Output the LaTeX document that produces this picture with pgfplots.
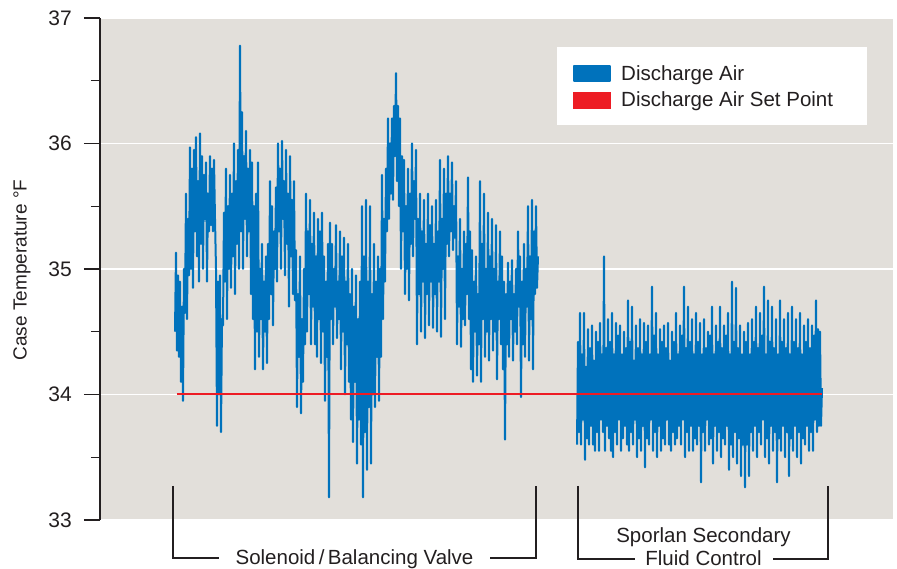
\documentclass[border=0pt]{standalone}
\usepackage{fontspec}
\setmainfont{Liberation Sans}
\usepackage{pgfplots}
\pgfplotsset{compat=1.18}
\definecolor{bggray}{RGB}{226,223,218}
\definecolor{dblue}{RGB}{0,114,188}
\definecolor{sred}{RGB}{237,28,36}
\definecolor{dark}{RGB}{35,31,32}
\begin{document}
\begin{tikzpicture}
\begin{axis}[
  scale only axis, width=793pt, height=502pt,
  xmin=100, xmax=893, ymin=33, ymax=37,
  clip=false,
  axis x line=none, axis y line=left,
  axis line style={-, dark, line width=1.3pt},
  axis background/.style={fill=bggray},
  ytick={33,34,35,36,37}, minor ytick={33.5,34.5,35.5,36.5},
  tick align=outside,
  major tick length=16pt, minor tick length=9pt,
  every tick/.style={dark, line width=1.4pt},
  ymajorgrids, major grid style={white, line width=1.3pt},
  /pgf/number format/assume math mode=true,
  yticklabel style={font=\fontsize{21}{24}\selectfont, text=dark, inner sep=0pt, xshift=-12pt},
  legend style={at={(axis cs:573,36.6255)}, anchor=north west, fill=none, draw=none, inner sep=0pt,
    font=\fontsize{20.5}{24}\selectfont, text=dark, row sep=9.5pt,
    nodes={inner sep=0pt},
    /tikz/every odd column/.append style={column sep=10pt}},
  legend cell align=left,
  legend image code/.code={\fill[#1] (0pt,-7.5pt) rectangle (36pt,7.5pt);},
]
\fill[white] (axis cs:557,36.769) rectangle (axis cs:867,36.147);
\addplot[dblue, line width=2pt, line join=round] table {
175 34.50
176 35.13
177 34.35
178 34.95
179 34.30
180 34.90
181 34.10
182 34.70
183 33.95
184 35.00
185 34.65
186 35.60
187 34.60
188 35.40
189 34.95
190 35.97
191 35.00
192 35.80
193 34.85
194 35.95
195 35.30
196 36.05
197 35.10
198 35.70
199 34.90
200 36.08
201 35.20
202 35.90
203 35.00
204 35.75
205 35.40
206 35.85
207 34.90
208 35.60
209 35.30
210 35.90
211 35.35
212 35.80
213 35.30
214 35.87
215 35.40
216 35.00
217 33.75
218 34.90
219 34.00
220 34.95
221 33.70
222 34.60
223 34.55
224 35.45
225 34.90
226 35.80
227 34.60
228 35.50
229 35.00
230 35.75
231 34.85
232 35.60
233 35.10
234 36.00
235 34.80
236 35.70
237 35.20
238 35.95
239 35.00
240 36.78
241 35.30
242 36.25
243 35.00
244 35.90
245 35.40
246 36.10
247 35.10
248 35.80
249 35.30
250 35.95
251 34.80
252 35.85
253 34.60
254 35.50
255 34.20
256 35.60
257 34.50
258 35.85
259 34.30
260 35.00
261 34.60
262 35.20
263 34.20
264 34.90
265 34.50
266 35.10
267 34.25
268 35.20
269 34.60
270 35.70
271 34.80
272 35.50
273 34.55
274 35.30
275 35.00
276 35.65
277 34.90
278 36.00
279 35.30
280 35.80
281 35.00
282 36.02
283 35.40
284 35.70
285 34.95
286 35.95
287 35.20
288 35.60
289 34.70
290 35.90
291 35.10
292 35.55
293 34.80
294 35.70
295 34.75
296 35.15
297 33.90
298 34.80
299 34.30
300 35.10
301 33.85
302 34.60
303 34.10
304 35.00
305 34.40
306 35.60
307 34.50
308 35.30
309 34.80
310 35.55
311 34.40
312 35.20
313 34.70
314 35.45
315 34.40
316 35.10
317 34.30
318 35.40
319 34.60
320 35.30
321 34.25
322 35.45
323 34.50
324 35.10
325 33.95
326 34.90
327 34.30
328 35.20
329 33.18
330 35.37
331 34.60
332 35.20
333 34.40
334 35.00
335 34.70
336 35.35
337 34.45
338 34.90
339 34.60
340 35.30
341 34.20
342 35.10
343 34.50
344 35.25
345 34.00
346 34.90
347 34.40
348 35.20
349 34.10
350 34.80
351 33.80
352 35.00
353 33.62
354 34.70
355 34.10
356 34.95
357 33.45
358 34.60
359 33.80
360 34.90
361 33.60
362 35.50
363 33.18
364 35.10
365 33.70
366 35.55
367 33.40
368 34.90
369 33.90
370 35.50
371 33.45
372 34.80
373 34.00
374 35.20
375 33.90
376 34.90
377 34.30
378 35.10
379 33.95
380 35.00
381 34.30
382 35.75
383 34.60
384 35.40
385 34.90
386 35.80
387 35.30
388 36.20
389 35.40
390 36.00
391 35.60
392 36.20
393 35.55
394 36.30
395 35.90
396 36.56
397 35.70
398 36.30
399 35.50
400 36.20
401 35.00
402 35.90
403 35.30
404 35.87
405 34.80
406 35.50
407 35.00
408 35.80
409 34.75
410 35.60
411 35.20
412 36.00
413 35.10
414 35.70
415 35.40
416 35.95
417 34.40
418 35.40
419 34.80
420 35.60
421 34.50
422 35.30
423 34.90
424 35.55
425 34.45
426 35.20
427 34.80
428 35.60
429 34.55
430 35.35
431 34.90
432 35.50
433 34.53
434 35.20
435 34.80
436 35.55
437 34.50
438 35.30
439 34.90
440 35.87
441 34.46
442 35.40
443 35.00
444 35.80
445 34.60
446 35.60
447 35.20
448 35.90
449 35.10
450 35.60
451 35.30
452 35.85
453 35.15
454 35.50
455 35.25
456 35.70
457 34.40
458 35.10
459 34.70
460 35.40
461 34.38
462 35.00
463 34.60
464 35.30
465 34.55
466 35.20
467 34.80
468 35.73
469 34.60
470 35.30
471 34.20
472 35.15
473 34.10
474 34.90
475 34.50
476 35.10
477 34.15
478 34.80
479 34.40
480 35.70
481 34.10
482 35.20
483 34.60
484 35.60
485 34.30
486 35.00
487 34.50
488 35.45
489 34.27
490 35.10
491 34.60
492 35.40
493 34.35
494 35.00
495 34.50
496 35.35
497 34.12
498 34.90
499 34.60
500 35.30
501 34.40
502 35.10
503 34.20
504 34.90
505 33.64
506 34.80
507 34.40
508 35.05
509 34.30
510 34.90
511 34.60
512 35.07
513 34.27
514 34.80
515 34.50
516 35.00
517 34.40
518 35.30
519 34.70
520 35.10
521 33.98
522 34.90
523 34.40
524 35.20
525 34.30
526 35.00
527 34.70
528 35.50
529 34.27
530 35.10
531 34.60
532 35.55
533 34.20
534 35.30
535 34.80
536 35.50
537 34.85
538 35.10
};
\addlegendentry{Discharge Air}
\addplot[dblue, line width=2pt, line join=round, forget plot] table {
577 33.60
578 34.42
579 33.70
580 34.65
581 33.60
582 34.32
583 33.80
584 34.65
585 33.48
586 34.22
587 33.65
588 34.52
589 33.60
590 34.37
591 33.75
592 34.55
593 33.60
594 34.27
595 33.55
596 34.50
597 33.70
598 34.42
599 33.55
600 34.57
601 33.80
602 34.32
603 33.70
604 35.10
605 33.55
606 34.37
607 33.75
608 34.60
609 33.65
610 34.42
611 33.55
612 34.65
613 33.50
614 34.32
615 33.70
616 34.57
617 33.60
618 34.47
619 33.80
620 34.55
621 33.55
622 34.32
623 33.65
624 34.50
625 33.75
626 34.37
627 33.60
628 34.75
629 33.55
630 34.42
631 33.70
632 34.70
633 33.60
634 34.27
635 33.80
636 34.55
637 33.50
638 34.37
639 33.65
640 34.60
641 33.55
642 34.32
643 33.75
644 34.57
645 33.42
646 34.42
647 33.65
648 34.55
649 33.60
650 34.32
651 33.80
652 34.86
653 33.55
654 34.47
655 33.70
656 34.65
657 33.50
658 34.32
659 33.75
660 34.52
661 33.55
662 34.42
663 33.65
664 34.55
665 33.60
666 34.37
667 33.80
668 34.57
669 33.60
670 34.27
671 33.55
672 34.50
673 33.70
674 34.42
675 33.60
676 34.65
677 33.65
678 34.32
679 33.75
680 34.55
681 33.60
682 34.47
683 33.80
684 34.86
685 33.50
686 34.37
687 33.70
688 34.70
689 33.55
690 34.42
691 33.75
692 34.60
693 33.55
694 34.32
695 33.65
696 34.65
697 33.60
698 34.42
699 33.75
700 34.57
701 33.30
702 34.32
703 33.70
704 34.60
705 33.55
706 34.37
707 33.80
708 34.50
709 33.60
710 34.47
711 33.65
712 34.70
713 33.45
714 34.32
715 33.75
716 34.55
717 33.55
718 34.42
719 33.70
720 34.70
721 33.50
722 34.37
723 33.65
724 34.55
725 33.60
726 34.47
727 33.75
728 34.65
729 33.40
730 34.32
731 33.60
732 34.90
733 33.50
734 34.42
735 33.70
736 34.85
737 33.45
738 34.37
739 33.65
740 34.55
741 33.35
742 34.32
743 33.60
744 34.50
745 33.26
746 34.42
747 33.60
748 34.57
749 33.35
750 34.32
751 33.70
752 34.60
753 33.55
754 34.42
755 33.75
756 34.70
757 33.50
758 34.37
759 33.70
760 34.65
761 33.60
762 34.47
763 33.80
764 34.86
765 33.50
766 34.32
767 33.65
768 34.75
769 33.45
770 34.42
771 33.75
772 34.70
773 33.55
774 34.37
775 33.70
776 34.60
777 33.30
778 34.32
779 33.65
780 34.75
781 33.55
782 34.42
783 33.75
784 34.60
785 33.50
786 34.37
787 33.70
788 34.65
789 33.35
790 34.32
791 33.65
792 34.70
793 33.55
794 34.42
795 33.75
796 34.60
797 33.50
798 34.37
799 33.70
800 34.65
801 33.45
802 34.32
803 33.65
804 34.55
805 33.60
806 34.42
807 33.75
808 34.60
809 33.55
810 34.37
811 33.70
812 34.55
813 33.55
814 34.47
815 33.80
816 34.75
817 33.70
818 34.52
819 33.75
820 34.50
821 33.75
822 34.05
};
\addplot[sred, line width=2pt] coordinates {(177,34.0)(822,34.0)};
\addlegendentry{Discharge Air Set Point}
% y label
\node[rotate=90, font=\fontsize{19}{22}\selectfont, text=dark] at (axis cs:22,34.992) {Case Temperature °F};
% brackets
\draw[dark, line width=1.3pt] (axis cs:173,33.271) -- (axis cs:173,32.697) -- (axis cs:219,32.697);
\draw[dark, line width=1.3pt] (axis cs:490,32.697) -- (axis cs:536,32.697) -- (axis cs:536,33.271);
\draw[dark, line width=1.3pt] (axis cs:578,33.271) -- (axis cs:578,32.689) -- (axis cs:635,32.689);
\draw[dark, line width=1.3pt] (axis cs:773,32.689) -- (axis cs:828,32.689) -- (axis cs:828,33.271);
\node[anchor=base, font=\fontsize{20.5}{24}\selectfont, text=dark, inner sep=0pt] at (axis cs:354.5,32.645) {Solenoid\thinspace/\thinspace Balancing Valve};
\node[anchor=base, font=\fontsize{20.5}{24}\selectfont, text=dark, inner sep=0pt] at (axis cs:703.5,32.820) {Sporlan Secondary};
\node[anchor=base, font=\fontsize{20.5}{24}\selectfont, text=dark, inner sep=0pt] at (axis cs:703.5,32.634) {Fluid Control};
\coordinate (BL) at (axis cs:0,32.6096);
\coordinate (TR) at (axis cs:897,37.1434);
\end{axis}
\pgfresetboundingbox
\path[use as bounding box] (BL) rectangle (TR);
\end{tikzpicture}
\end{document}
